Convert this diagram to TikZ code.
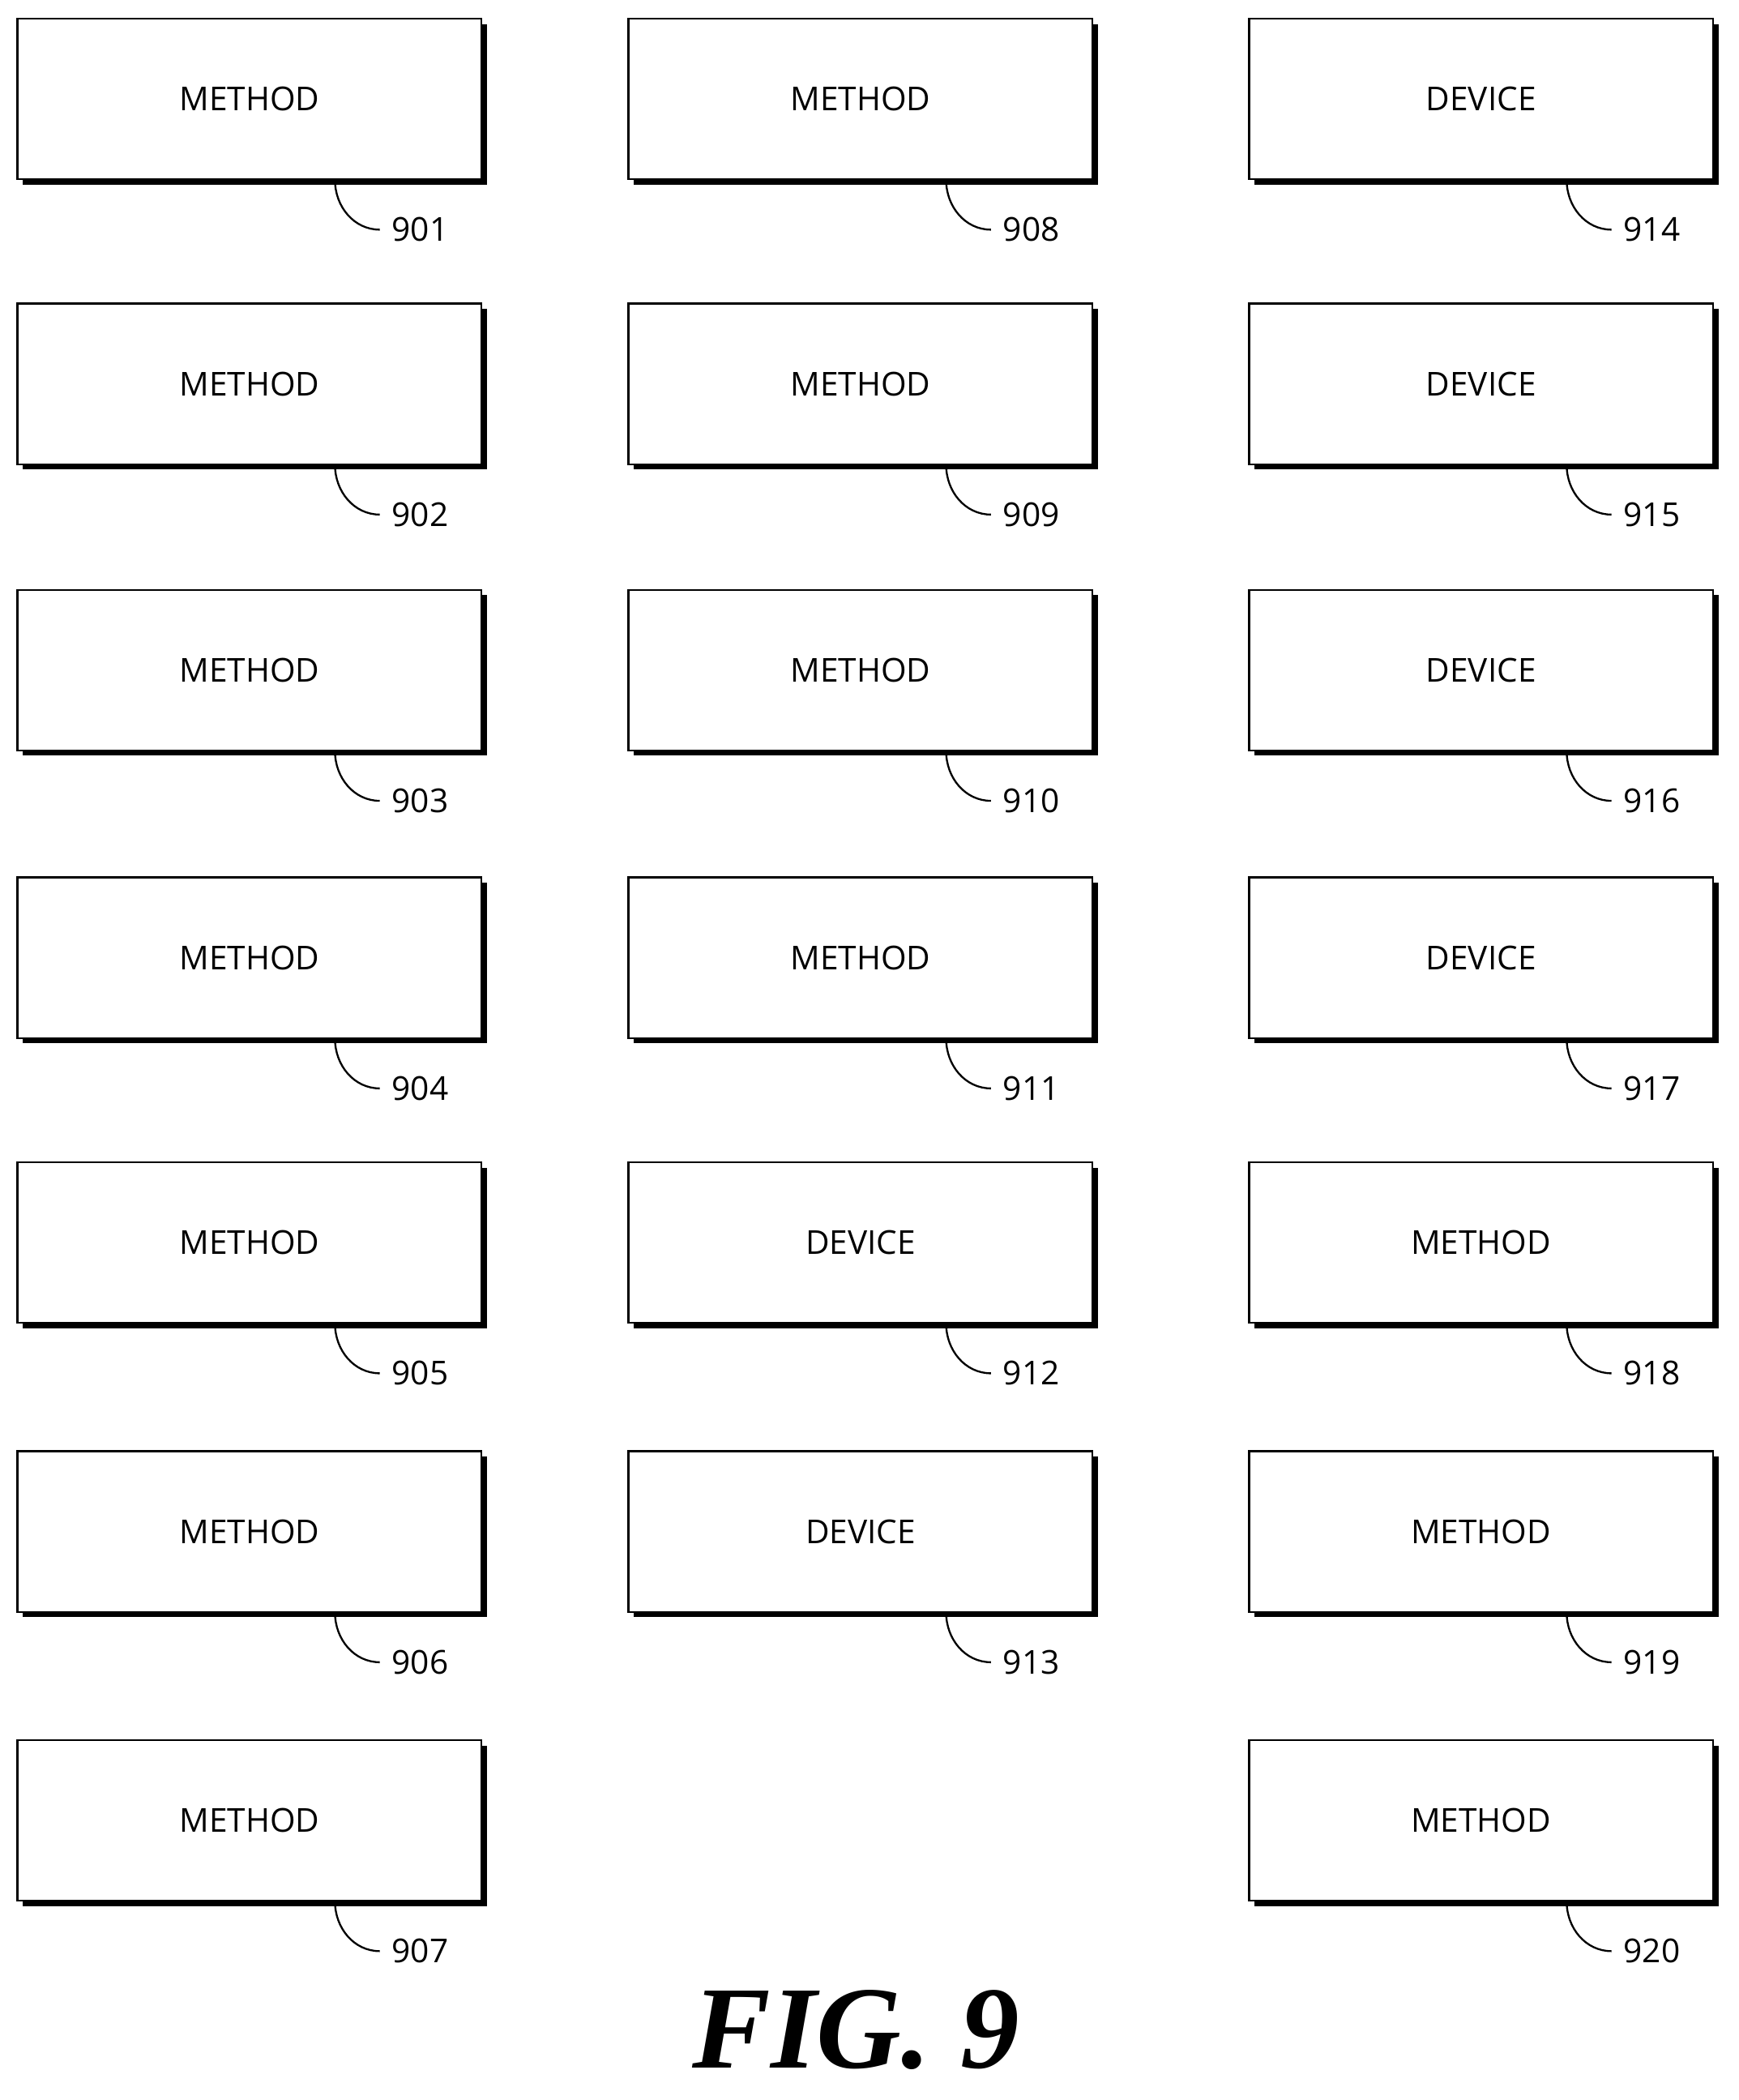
\documentclass[tikz,border=0pt]{standalone}
\usepackage{fontspec}
\setmainfont{Open Sans}
\newfontfamily\figfont{Liberation Serif}
\usetikzlibrary{shadows}
\tikzset{
  blockbox/.style = {draw, thick, fill=white, minimum width=6.94cm, minimum height=2.4cm,
                     font=\fontsize{14}{16}\selectfont,
                     drop shadow={shadow xshift=0.08cm, shadow yshift=-0.08cm, fill=black, opacity=1}},
  reflabel/.style = {font=\fontsize{14}{16}\selectfont, anchor=west, inner sep=5pt},
  leader/.style   = {thick}
}
\begin{document}
\begin{tikzpicture}
  \useasboundingbox (0,0) rectangle (26,-31.4);
  % boxes: x, y, text, reference number
  \foreach \x/\y/\txt/\num in {
      3.73/-1.48/METHOD/901, 3.73/-5.74/METHOD/902, 3.73/-10.02/METHOD/903,
      3.73/-14.32/METHOD/904, 3.73/-18.58/METHOD/905, 3.73/-22.9/METHOD/906,
      3.73/-27.22/METHOD/907,
      12.87/-1.48/METHOD/908, 12.87/-5.74/METHOD/909, 12.87/-10.02/METHOD/910,
      12.87/-14.32/METHOD/911, 12.87/-18.58/DEVICE/912, 12.87/-22.9/DEVICE/913,
      22.15/-1.48/DEVICE/914, 22.15/-5.74/DEVICE/915, 22.15/-10.02/DEVICE/916,
      22.15/-14.32/DEVICE/917, 22.15/-18.58/METHOD/918, 22.15/-22.9/METHOD/919,
      22.15/-27.22/METHOD/920} {
    \node[blockbox] (b\num) at (\x,\y) {\txt};
    \node[reflabel] (l\num) at ([xshift=1.95cm, yshift=-0.74cm]b\num.south) {\num};
    \draw[leader] ([xshift=1.28cm]b\num.south) to[out=-90, in=180] (l\num.west);
  }
  \node[font=\figfont\bfseries\itshape\fontsize{50}{54}\selectfont] (fig) at (12.8,-30.35) {FIG. 9};
\end{tikzpicture}
\end{document}
